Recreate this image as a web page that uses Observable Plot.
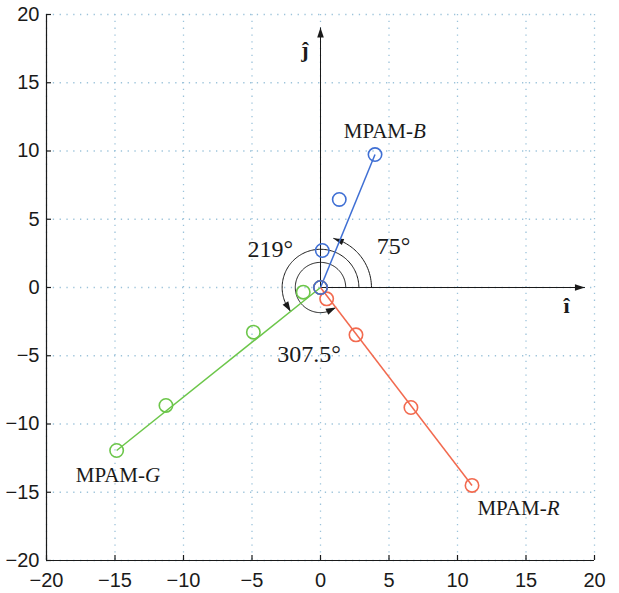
<!DOCTYPE html>
<html>
<head>
<meta charset="utf-8">
<script src="https://cdn.jsdelivr.net/npm/d3@7"></script>
<script src="https://cdn.jsdelivr.net/npm/@observablehq/plot@0.6"></script>
<style>
  html, body { margin: 0; padding: 0; background: #fff; }
  #chart svg { display: block; }
</style>
</head>
<body>
<div id="chart"></div>
<script>
// Axis ticks (both axes share the same range)
const xTicks = [-20, -15, -10, -5, 0, 5, 10, 15, 20];
const yTicks = [-20, -15, -10, -5, 0, 5, 10, 15, 20];

// Constellation points of the three MPAM channels
const blueX  = [0, 0.13, 1.37, 3.98];
const blueY  = [0, 2.71, 6.45, 9.74];
const redX   = [0, 0.45, 2.59, 6.6, 11.06];
const redY   = [0, -0.83, -3.47, -8.79, -14.5];
const greenX = [0, -1.26, -4.9, -11.28, -14.88];
const greenY = [0, -0.34, -3.27, -8.64, -11.94];

// Rotation angles (degrees) shown by the arcs, with their arc radii
const arcAngles = [75, 219, 307.5];
const arcRadii  = [3.72, 2.8, 1.84];

// Unit-vector axes through the origin
const unitAxes = [
  {x1: 0, y1: 0, x2: 19.3, y2: 0, name: "î"},
  {x1: 0, y1: 0, x2: 0, y2: 19.05, name: "ĵ"}
];

const colors = {B: "#3f6fd4", R: "#f26a4f", G: "#6cc64a"};

const series = [
  {key: "G", xs: greenX, ys: greenY},
  {key: "R", xs: redX, ys: redY},
  {key: "B", xs: blueX, ys: blueY}
];

const points = series.flatMap(s => s.xs.map((x, i) => ({x, y: s.ys[i], key: s.key})));
// each line runs from the origin to the outermost point
const segments = series.map(s => ({
  key: s.key, x1: s.xs[0], y1: s.ys[0], x2: s.xs[s.xs.length - 1], y2: s.ys[s.ys.length - 1]
}));

// Arc polylines for the rotation angles
const arcs = arcAngles.flatMap((a, k) => {
  const n = Math.ceil(a / 2);
  return d3.range(n + 1).map(i => {
    const t = (a * i / n) * Math.PI / 180;
    return {angle: a, x: arcRadii[k] * Math.cos(t), y: arcRadii[k] * Math.sin(t)};
  });
});

const pxPerUnit = 13.7;
const headLen = 10;
// arrow heads at the ends of the arcs, aligned with the last chord of the arc
const arcHeads = arcAngles.map((a, k) => {
  const t = a * Math.PI / 180;
  const delta = (headLen / (arcRadii[k] * pxPerUnit)) * 180 / Math.PI;
  return {x: arcRadii[k] * Math.cos(t), y: arcRadii[k] * Math.sin(t), rotate: -(a - delta / 2)};
});
const axisHeads = unitAxes.map(d => ({x: d.x2, y: d.y2, rotate: d.y2 === 0 ? 90 : 0}));

// filled arrow head, tip at the anchor point, pointing up before rotation
const arrowHead = {
  draw(context) {
    context.moveTo(0, 0);
    context.lineTo(-3.3, headLen);
    context.lineTo(3.3, headLen);
    context.closePath();
  }
};

const seriesLabels = [
  {x: 6.75, y: 10.92, key: "B"},
  {x: -12.81, y: -14.26, key: "G"},
  {x: 16.51, y: -16.65, key: "R"}
];
const angleLabels = [
  {x: -3.66, y: 2.2, text: "219°"},
  {x: 5.33, y: 2.49, text: "75°"},
  {x: -0.84, y: -5.49, text: "307.5°"}
];
const axisLabels = [
  {x: 17.96, y: -1.88, text: "î"},
  {x: -1.13, y: 16.85, text: "ĵ"}
];

const serif = "'Liberation Serif', 'Times New Roman', serif";
const sans = "'Liberation Sans', Arial, Helvetica, sans-serif";
const tickLen = 5 / pxPerUnit;

const chart = Plot.plot({
  width: 619,
  height: 593,
  marginLeft: 46,
  marginRight: 25,
  marginTop: 14,
  marginBottom: 33,
  x: {domain: [-20, 20], axis: null},
  y: {domain: [-20, 20], axis: null},
  style: {background: "#fff", overflow: "visible"},
  marks: [
    // dotted grid
    Plot.gridX(xTicks, {stroke: "#9cc3da", strokeOpacity: 1, strokeWidth: 1.3, strokeDasharray: "1.3,5.5"}),
    Plot.gridY(yTicks, {stroke: "#9cc3da", strokeOpacity: 1, strokeWidth: 1.3, strokeDasharray: "1.3,5.5"}),
    // left and bottom axis lines with inward ticks
    Plot.ruleX([-20], {y1: -20, y2: 20, stroke: "#1a1a1a", strokeWidth: 1.2}),
    Plot.ruleY([-20], {x1: -20, x2: 20, stroke: "#1a1a1a", strokeWidth: 1.2}),
    Plot.ruleY(yTicks, {y: d => d, x1: -20, x2: -20 + tickLen, stroke: "#1a1a1a", strokeWidth: 1.2}),
    Plot.ruleX(xTicks, {x: d => d, y1: -20, y2: -20 + tickLen, stroke: "#1a1a1a", strokeWidth: 1.2}),
    Plot.axisY({ticks: yTicks, tickSize: 0, tickPadding: 7, fontSize: 20, fontFamily: sans, fill: "#1a1a1a"}),
    Plot.axisX({ticks: xTicks, tickSize: 0, tickPadding: 12, fontSize: 20, fontFamily: sans, fill: "#1a1a1a"}),
    // unit vector axes
    Plot.link(unitAxes, {x1: "x1", y1: "y1", x2: "x2", y2: "y2", stroke: "#1a1a1a", strokeWidth: 1}),
    Plot.dot(axisHeads, {x: "x", y: "y", rotate: "rotate", symbol: arrowHead, fill: "#1a1a1a", stroke: "none"}),
    Plot.text(axisLabels, {x: "x", y: "y", text: "text", lineAnchor: "bottom", fontSize: 22, fontWeight: "bold", fontFamily: serif, fill: "#1a1a1a"}),
    // rotation arcs
    Plot.line(arcs, {x: "x", y: "y", z: "angle", stroke: "#1a1a1a", strokeWidth: 1, curve: "linear"}),
    Plot.dot(arcHeads, {x: "x", y: "y", rotate: "rotate", symbol: arrowHead, fill: "#1a1a1a", stroke: "none"}),
    Plot.text(angleLabels, {x: "x", y: "y", text: "text", lineAnchor: "bottom", fontSize: 24, fontFamily: serif, fill: "#1a1a1a"}),
    // channel lines and points
    Plot.link(segments, {x1: "x1", y1: "y1", x2: "x2", y2: "y2", stroke: d => colors[d.key], strokeWidth: 1.5}),
    Plot.dot(points, {x: "x", y: "y", r: 6.7, stroke: d => colors[d.key], strokeWidth: 1.6, fill: "none"}),
    // channel names: roman prefix + italic letter
    Plot.text(seriesLabels, {x: "x", y: "y", text: () => "MPAM-", textAnchor: "end", lineAnchor: "bottom", fontSize: 21, fontFamily: serif, fill: "#1a1a1a"}),
    Plot.text(seriesLabels, {x: "x", y: "y", text: "key", textAnchor: "start", lineAnchor: "bottom", fontSize: 21, fontStyle: "italic", fontFamily: serif, fill: "#1a1a1a"})
  ]
});

document.getElementById("chart").appendChild(chart);
</script>
</body>
</html>
